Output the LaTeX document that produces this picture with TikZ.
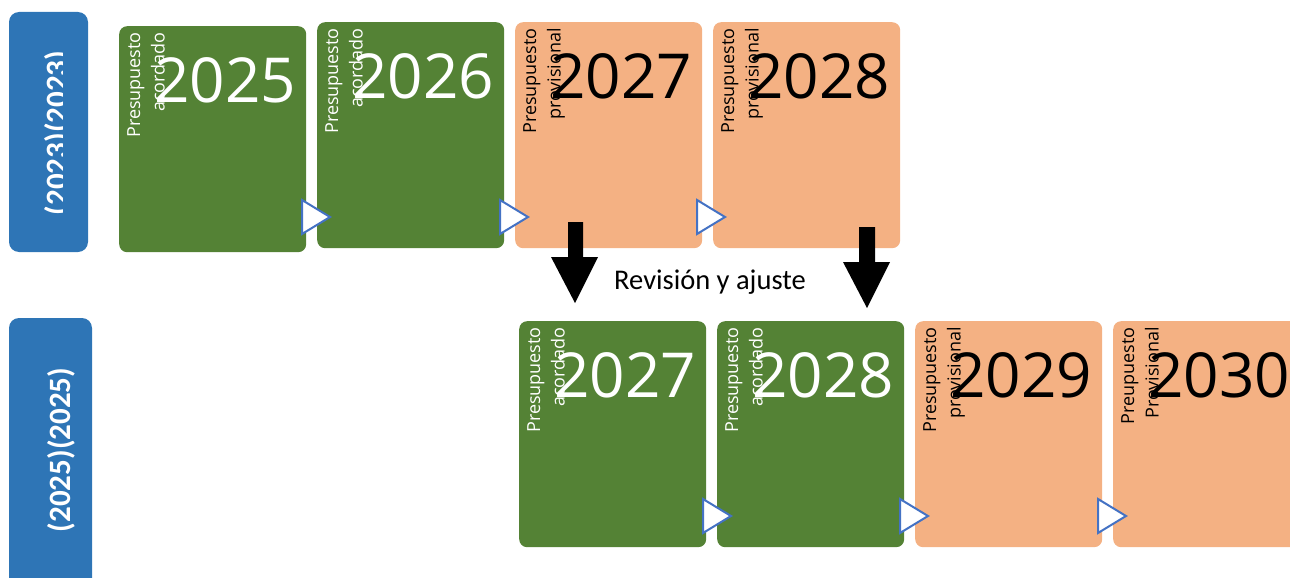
\documentclass[tikz,border=0pt]{standalone}
\usepackage{fontspec}
\setmainfont{Open Sans}
\newfontfamily\carl{Carlito}
\definecolor{bgreen}{HTML}{548235}
\definecolor{borange}{HTML}{F4B183}
\definecolor{bblue}{HTML}{2E75B6}
\definecolor{tblue}{HTML}{4472C4}
\tikzset{
  box/.style={rounded corners=8pt, minimum width=187pt, minimum height=226pt, anchor=north west, inner sep=0pt, draw=none},
  gbox/.style={box, fill=bgreen},
  obox/.style={box, fill=borange},
  year/.style={font=\fontsize{62}{74}\selectfont, inner sep=0pt, anchor=base east},
  lbl/.style={rotate=90, align=right, font=\fontsize{18}{24.5}\selectfont, inner sep=0pt, anchor=north east},
  tri/.style={draw=tblue, fill=white, line width=2pt, line join=miter},
  bar/.style={fill=bblue, rounded corners=10pt},
  bartxt/.style={rotate=90, font=\carl\bfseries\fontsize{31}{37}\selectfont, text=white, inner sep=0pt, anchor=base},
  blockarrow/.style={fill=black}
}
\begin{document}
\begin{tikzpicture}[x=1pt,y=-1pt]
\useasboundingbox (0,0) rectangle (1290,578);
% left bars
\fill[bar] (9,12) rectangle (88,252);
\fill[bar] (9,318) rectangle (92,600);
\begin{scope}
  \clip (9,12) rectangle (62,252);
  \node[bartxt] (bar1) at (67,133) {(2023)(2023)};
\end{scope}
\node[bartxt] (bar2) at (70,450) {(2025)(2025)};

% top row
\node[gbox] (t1) at (119,26) {};
\node[gbox] (t2) at (317,22) {};
\node[obox] (t3) at (515,22) {};
\node[obox] (t4) at (713,22) {};
% bottom row
\node[gbox] (b1) at (519,321) {};
\node[gbox] (b2) at (717,321) {};
\node[obox] (b3) at (915,321) {};
\node[obox] (b4) at (1113,321) {};

% years
\node[year, text=white] (t1y) at ([xshift=-10pt,yshift=-76pt]t1.north east) {2025};
\node[year, text=white] (t2y) at ([xshift=-10pt,yshift=-76pt]t2.north east) {2026};
\node[year, text=black] (t3y) at ([xshift=-10pt,yshift=-76pt]t3.north east) {2027};
\node[year, text=black] (t4y) at ([xshift=-10pt,yshift=-76pt]t4.north east) {2028};
\node[year, text=white] (b1y) at ([xshift=-10pt,yshift=-76pt]b1.north east) {2027};
\node[year, text=white] (b2y) at ([xshift=-10pt,yshift=-76pt]b2.north east) {2028};
\node[year, text=black] (b3y) at ([xshift=-10pt,yshift=-76pt]b3.north east) {2029};
\node[year, text=black] (b4y) at ([xshift=-10pt,yshift=-76pt]b4.north east) {2030};

% labels
\node[lbl, text=white] (t1l) at ([xshift=8pt,yshift=-6pt]t1.north west) {Presupuesto\\acordado};
\node[lbl, text=white] (t2l) at ([xshift=8pt,yshift=-6pt]t2.north west) {Presupuesto\\acordado};
\node[lbl, text=black] (t3l) at ([xshift=8pt,yshift=-6pt]t3.north west) {Presupuesto\\provisional};
\node[lbl, text=black] (t4l) at ([xshift=8pt,yshift=-6pt]t4.north west) {Presupuesto\\provisional};
\node[lbl, text=white] (b1l) at ([xshift=8pt,yshift=-6pt]b1.north west) {Presupuesto\\acordado};
\node[lbl, text=white] (b2l) at ([xshift=8pt,yshift=-6pt]b2.north west) {Presupuesto\\acordado};
\node[lbl, text=black] (b3l) at ([xshift=8pt,yshift=-6pt]b3.north west) {Presupuesto\\provisional};
\node[lbl, text=black] (b4l) at ([xshift=8pt,yshift=-6pt]b4.north west) {Preupuesto\\Provisional};

% triangles
\foreach \xx in {302,500,697} {
  \draw[tri] (\xx,200) -- (\xx+28,217) -- (\xx,234) -- cycle;
}
\foreach \xx in {703,900,1098} {
  \draw[tri] (\xx,499) -- (\xx+28,516) -- (\xx,533) -- cycle;
}

% block arrows
\fill[blockarrow] (568,222) -- (583,222) -- (583,257) -- (598,257) -- (575,303) -- (551,257) -- (568,257) -- cycle;
\fill[blockarrow] (859,227) -- (875,227) -- (875,262) -- (890,262) -- (867,308) -- (843,262) -- (859,262) -- cycle;

\node[font=\carl\fontsize{28.5}{34}\selectfont, inner sep=0pt] (rev) at (710,282) {Revisión y ajuste};
\end{tikzpicture}
\end{document}
